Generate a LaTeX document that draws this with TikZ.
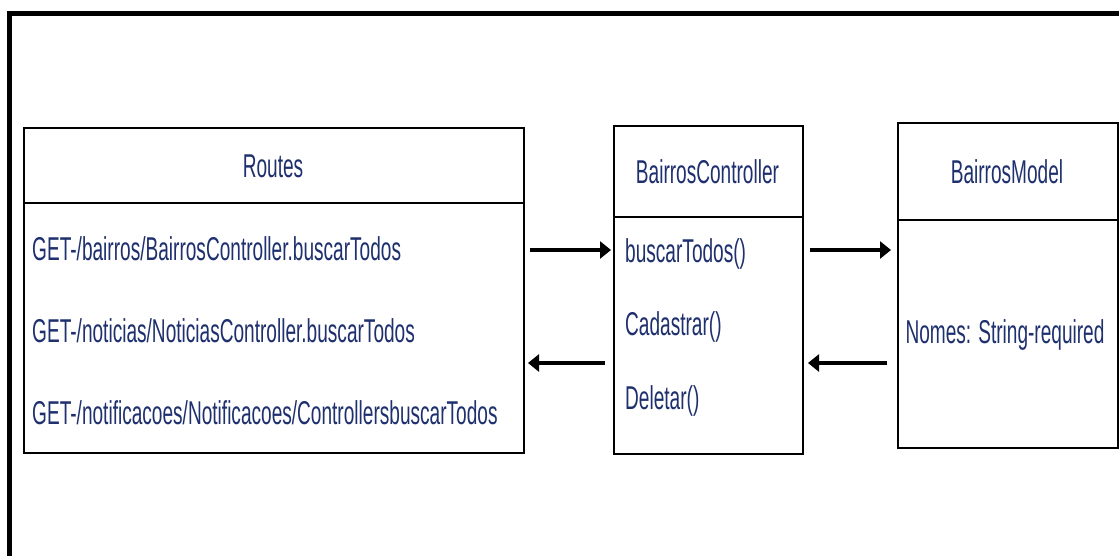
\documentclass[tikz,border=0pt]{standalone}
\usepackage{fontspec}
\setmainfont{Liberation Sans}
\newfontfamily\narrowfont[FakeStretch=0.578]{Liberation Sans}
\usetikzlibrary{arrows.meta}
\definecolor{navy}{RGB}{31,48,110}
\begin{document}
\begin{tikzpicture}[x=1pt,y=-1pt,
  box/.style={draw=black,line width=2.2pt},
  txt/.style={inner sep=0pt,text=navy,font=\narrowfont\fontsize{33}{38}\selectfont},
  arr/.style={line width=4.5pt,-{Triangle[length=11pt,width=17pt]}}]
\useasboundingbox (0,0) rectangle (1119,555);
\fill[white] (0,0) rectangle (1119,555);
% outer frame
\draw[line width=5pt] (9.5,570) -- (9.5,13) -- (1130,13);
% Routes box
\node[box,minimum width=500pt,minimum height=325pt,anchor=north west,inner sep=0pt] (routes) at (23,127) {};
\draw[line width=2.2pt] (23,203) coordinate (rdl) -- (523,203) coordinate (rdr);
\node[txt] (rtitle) at (273,166) {Routes};
\node[txt,anchor=west] (r1) at (32,249) {GET-/bairros/BairrosController.buscarTodos};
\node[txt,anchor=west] (r2) at (32,331) {GET-/noticias/NoticiasController.buscarTodos};
\node[txt,anchor=west] (r3) at (32,413) {GET-/notificacoes/Notificacoes/ControllersbuscarTodos};
% Controller box
\node[box,minimum width=189pt,minimum height=328pt,anchor=north west,inner sep=0pt] (ctrl) at (613,125) {};
\draw[line width=2.2pt] (613,217) coordinate (cdl) -- (802,217) coordinate (cdr);
\node[txt] (ctitle) at (707.5,172) {BairrosController};
\node[txt,anchor=west] (c1) at (625,254) {buscarTodos()};
\node[txt,anchor=west] (c2) at (625,327) {Cadastrar()};
\node[txt,anchor=west] (c3) at (625,401) {Deletar()};
% Model box
\node[box,minimum width=220pt,minimum height=325pt,anchor=north west,inner sep=0pt] (model) at (897,122) {};
\draw[line width=2.2pt] (897,220) coordinate (mdl) -- (1117,220) coordinate (mdr);
\node[txt] (mtitle) at (1007,172) {BairrosModel};
\node[txt] (m1) at (1005,335) {Nomes: String-required};
% arrows
\coordinate (a1s) at (530,250); \coordinate (a1e) at (611,250);
\coordinate (a2s) at (605,363); \coordinate (a2e) at (528,363);
\coordinate (a3s) at (810,250); \coordinate (a3e) at (891,250);
\coordinate (a4s) at (887,363); \coordinate (a4e) at (808,363);
\draw[arr] (a1s) -- (a1e);
\draw[arr] (a2s) -- (a2e);
\draw[arr] (a3s) -- (a3e);
\draw[arr] (a4s) -- (a4e);
\end{tikzpicture}
\end{document}
